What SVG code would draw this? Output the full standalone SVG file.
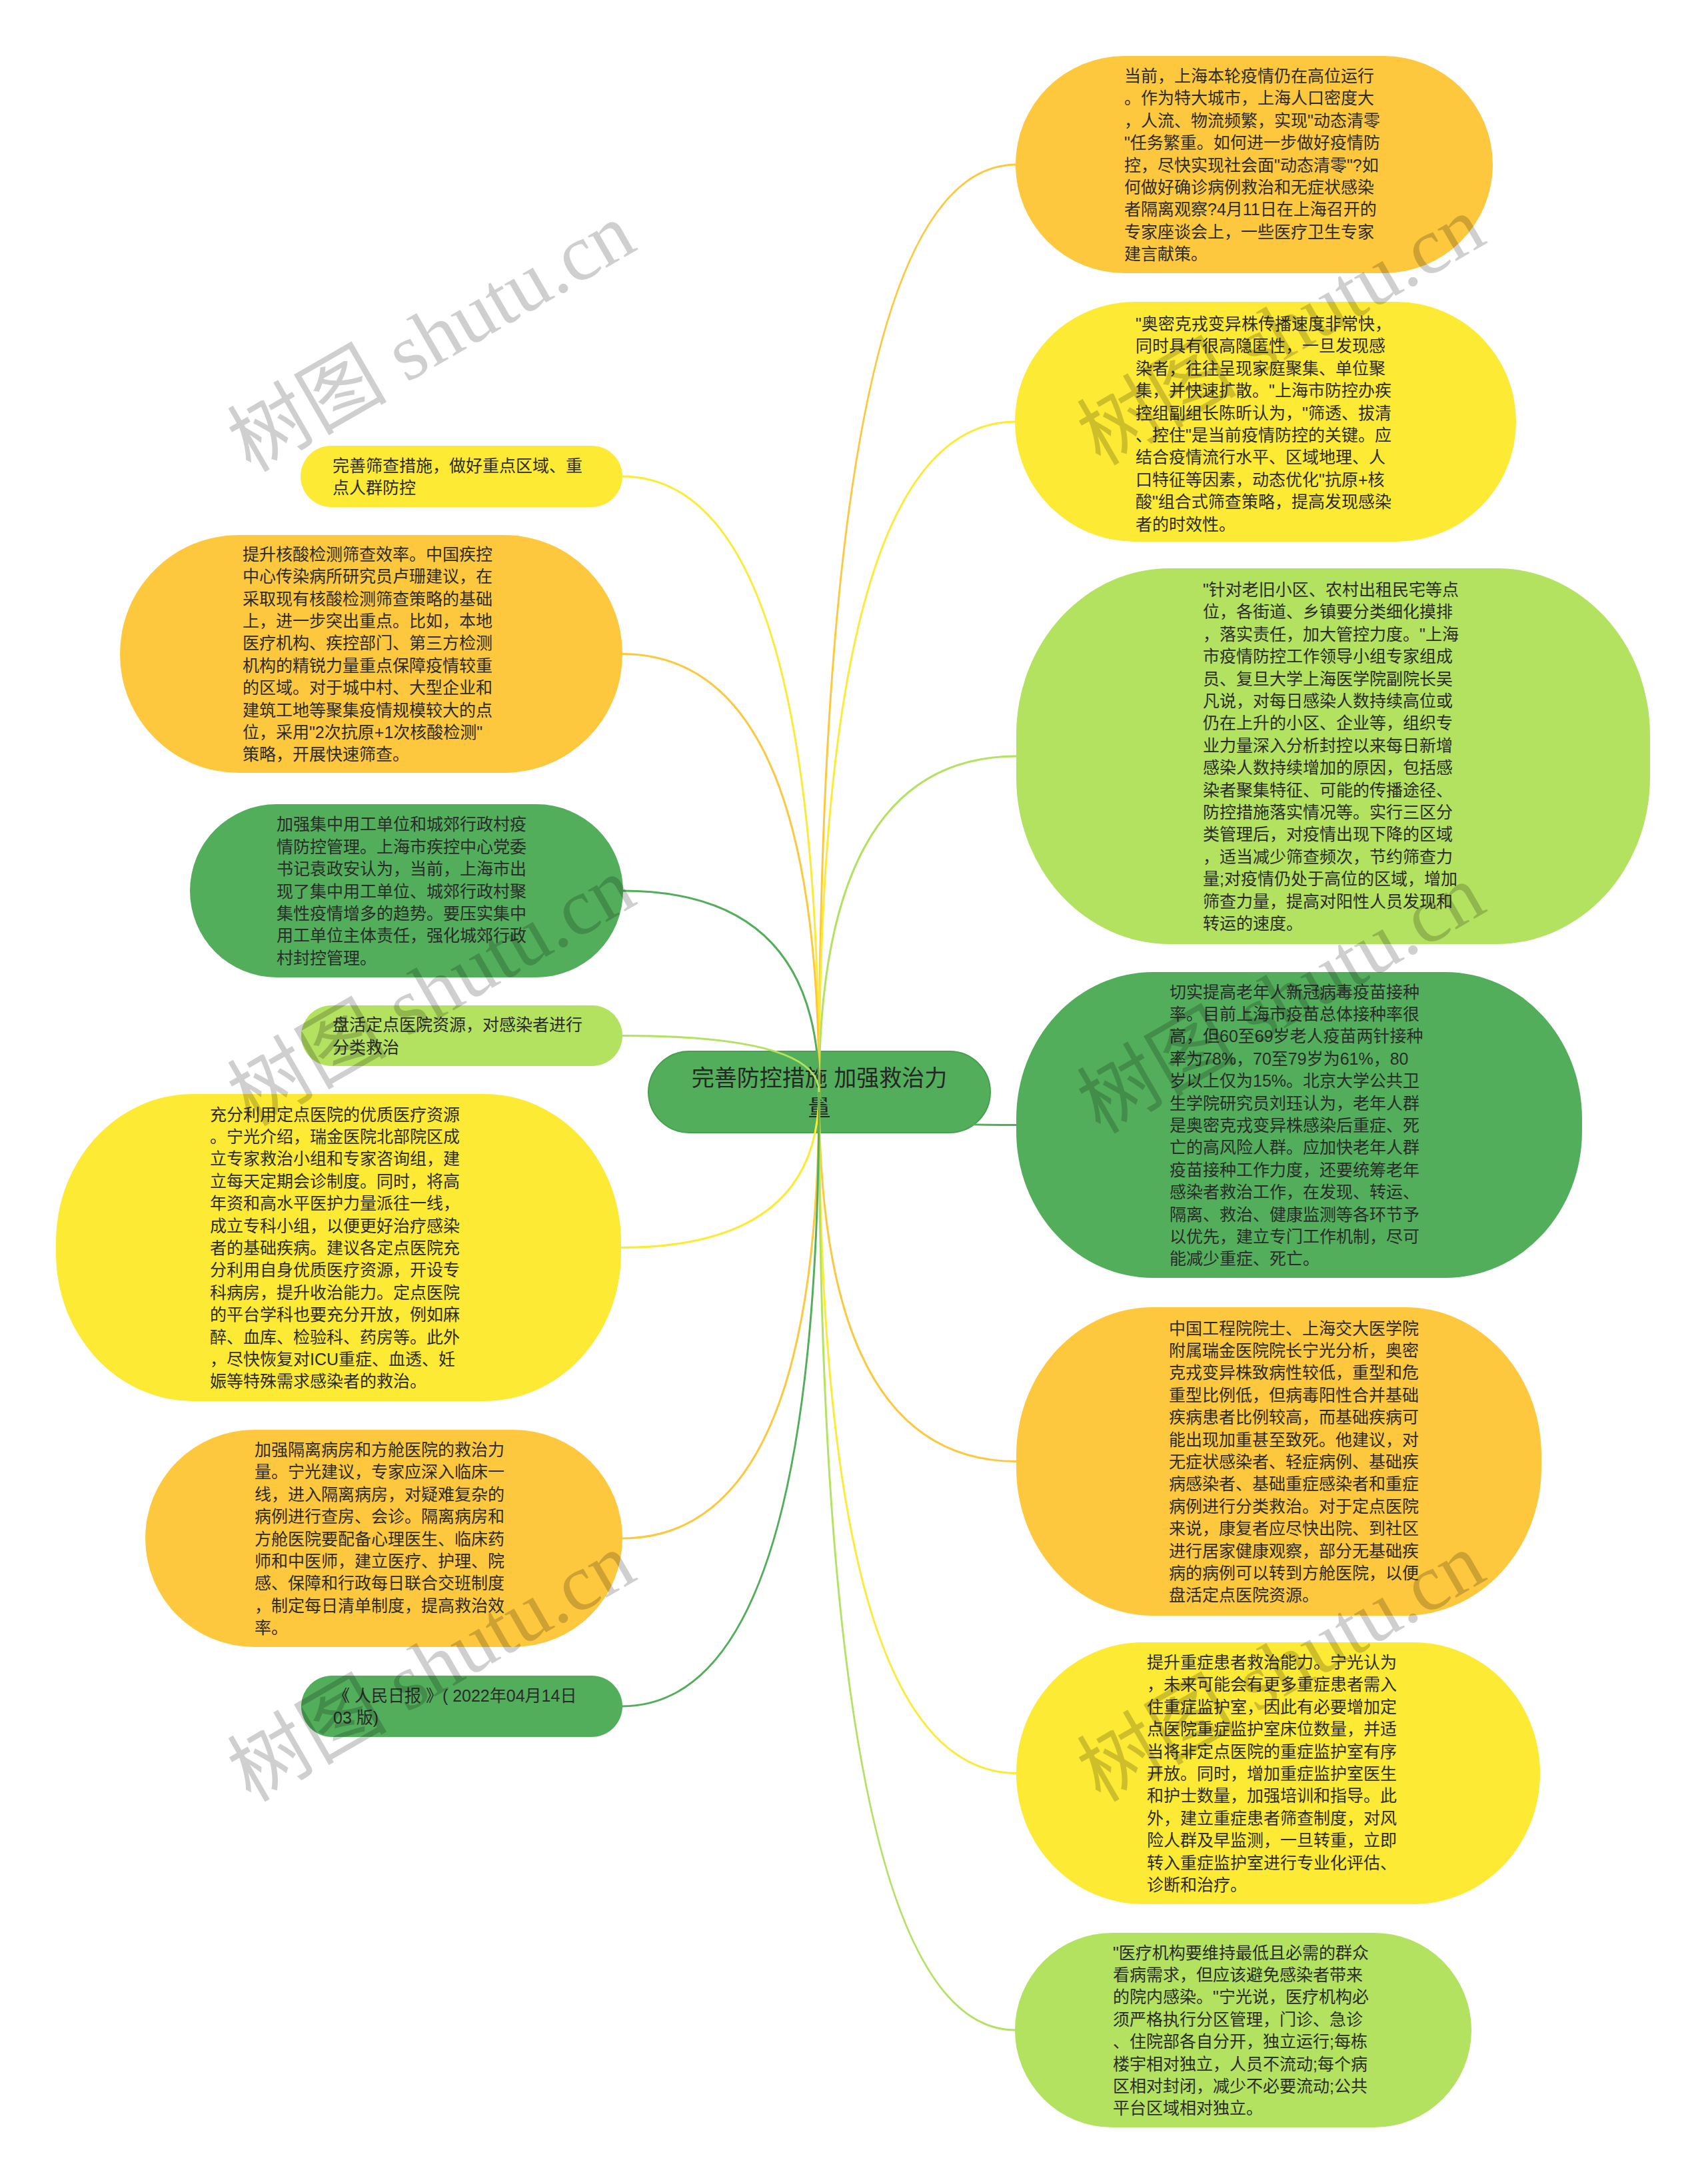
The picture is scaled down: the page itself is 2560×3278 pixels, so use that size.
<svg xmlns="http://www.w3.org/2000/svg" width="2560" height="3278" viewBox="0 0 2560 3278">
<style>
.or{fill:#FEC83E}.ye{fill:#FDEA34}.lg{fill:#B3E160}.dg{fill:#52AE5B}
.ctr{fill:#52AE5B;stroke:#46A04F;stroke-width:2}
.t{font-family:"Liberation Sans","Noto Sans CJK SC",sans-serif;font-size:25px;fill:#2b2b2b}
.tc{font-family:"Liberation Sans","Noto Sans CJK SC",sans-serif;font-size:34px;fill:#262626;text-anchor:middle}
.c{fill:none;stroke-width:3}
.cor{stroke:#FEC83E}.cye{stroke:#FDEA34}.clg{stroke:#B3E160}.cdg{stroke:#52AE5B}
.wm{font-family:"Liberation Serif","Noto Sans CJK SC",serif;font-size:120px;fill:#000;fill-opacity:0.19}
</style>
<rect width="2560" height="3278" fill="#ffffff"/>

<g id="center">
<rect class="ctr" x="973" y="1578" width="513" height="122" rx="61" ry="61"/>
<text class="tc" x="1229.5" y="1630">完善防控措施 加强救治力<tspan x="1229.5" y="1675">量</tspan></text>
</g>

<g id="r1">
<rect class="or" x="1524" y="84" width="716" height="326" rx="163" ry="163"/>
<text class="t" x="1687" y="123"><tspan x="1687">当前，上海本轮疫情仍在高位运行</tspan><tspan x="1687" dy="33.4">。作为特大城市，上海人口密度大</tspan><tspan x="1687" dy="33.4">，人流、物流频繁，实现"动态清零</tspan><tspan x="1687" dy="33.4">"任务繁重。如何进一步做好疫情防</tspan><tspan x="1687" dy="33.4">控，尽快实现社会面"动态清零"?如</tspan><tspan x="1687" dy="33.4">何做好确诊病例救治和无症状感染</tspan><tspan x="1687" dy="33.4">者隔离观察?4月11日在上海召开的</tspan><tspan x="1687" dy="33.4">专家座谈会上，一些医疗卫生专家</tspan><tspan x="1687" dy="33.4">建言献策。</tspan></text>
</g>

<g id="r2">
<rect class="ye" x="1523" y="453" width="752" height="360" rx="180" ry="180"/>
<text class="t" x="1704" y="495"><tspan x="1704">"奥密克戎变异株传播速度非常快，</tspan><tspan x="1704" dy="33.4">同时具有很高隐匿性，一旦发现感</tspan><tspan x="1704" dy="33.4">染者，往往呈现家庭聚集、单位聚</tspan><tspan x="1704" dy="33.4">集，并快速扩散。"上海市防控办疾</tspan><tspan x="1704" dy="33.4">控组副组长陈昕认为，"筛透、拔清</tspan><tspan x="1704" dy="33.4">、控住"是当前疫情防控的关键。应</tspan><tspan x="1704" dy="33.4">结合疫情流行水平、区域地理、人</tspan><tspan x="1704" dy="33.4">口特征等因素，动态优化"抗原+核</tspan><tspan x="1704" dy="33.4">酸"组合式筛查策略，提高发现感染</tspan><tspan x="1704" dy="33.4">者的时效性。</tspan></text>
</g>

<g id="r3">
<rect class="lg" x="1525" y="853" width="951" height="564" rx="230" ry="250"/>
<text class="t" x="1805" y="894"><tspan x="1805">"针对老旧小区、农村出租民宅等点</tspan><tspan x="1805" dy="33.4">位，各街道、乡镇要分类细化摸排</tspan><tspan x="1805" dy="33.4">，落实责任，加大管控力度。"上海</tspan><tspan x="1805" dy="33.4">市疫情防控工作领导小组专家组成</tspan><tspan x="1805" dy="33.4">员、复旦大学上海医学院副院长吴</tspan><tspan x="1805" dy="33.4">凡说，对每日感染人数持续高位或</tspan><tspan x="1805" dy="33.4">仍在上升的小区、企业等，组织专</tspan><tspan x="1805" dy="33.4">业力量深入分析封控以来每日新增</tspan><tspan x="1805" dy="33.4">感染人数持续增加的原因，包括感</tspan><tspan x="1805" dy="33.4">染者聚集特征、可能的传播途径、</tspan><tspan x="1805" dy="33.4">防控措施落实情况等。实行三区分</tspan><tspan x="1805" dy="33.4">类管理后，对疫情出现下降的区域</tspan><tspan x="1805" dy="33.4">，适当减少筛查频次，节约筛查力</tspan><tspan x="1805" dy="33.4">量;对疫情仍处于高位的区域，增加</tspan><tspan x="1805" dy="33.4">筛查力量，提高对阳性人员发现和</tspan><tspan x="1805" dy="33.4">转运的速度。</tspan></text>
</g>

<g id="r4">
<rect class="dg" x="1525" y="1459" width="849" height="459" rx="205" ry="220"/>
<text class="t" x="1755" y="1497.6"><tspan x="1755">切实提高老年人新冠病毒疫苗接种</tspan><tspan x="1755" dy="33.4">率。目前上海市疫苗总体接种率很</tspan><tspan x="1755" dy="33.4">高，但60至69岁老人疫苗两针接种</tspan><tspan x="1755" dy="33.4">率为78%，70至79岁为61%，80</tspan><tspan x="1755" dy="33.4">岁以上仅为15%。北京大学公共卫</tspan><tspan x="1755" dy="33.4">生学院研究员刘珏认为，老年人群</tspan><tspan x="1755" dy="33.4">是奥密克戎变异株感染后重症、死</tspan><tspan x="1755" dy="33.4">亡的高风险人群。应加快老年人群</tspan><tspan x="1755" dy="33.4">疫苗接种工作力度，还要统筹老年</tspan><tspan x="1755" dy="33.4">感染者救治工作，在发现、转运、</tspan><tspan x="1755" dy="33.4">隔离、救治、健康监测等各环节予</tspan><tspan x="1755" dy="33.4">以优先，建立专门工作机制，尽可</tspan><tspan x="1755" dy="33.4">能减少重症、死亡。</tspan></text>
</g>

<g id="r5">
<rect class="or" x="1525" y="1962" width="788" height="463" rx="205" ry="222"/>
<text class="t" x="1754" y="2002.6"><tspan x="1754">中国工程院院士、上海交大医学院</tspan><tspan x="1754" dy="33.4">附属瑞金医院院长宁光分析，奥密</tspan><tspan x="1754" dy="33.4">克戎变异株致病性较低，重型和危</tspan><tspan x="1754" dy="33.4">重型比例低，但病毒阳性合并基础</tspan><tspan x="1754" dy="33.4">疾病患者比例较高，而基础疾病可</tspan><tspan x="1754" dy="33.4">能出现加重甚至致死。他建议，对</tspan><tspan x="1754" dy="33.4">无症状感染者、轻症病例、基础疾</tspan><tspan x="1754" dy="33.4">病感染者、基础重症感染者和重症</tspan><tspan x="1754" dy="33.4">病例进行分类救治。对于定点医院</tspan><tspan x="1754" dy="33.4">来说，康复者应尽快出院、到社区</tspan><tspan x="1754" dy="33.4">进行居家健康观察，部分无基础疾</tspan><tspan x="1754" dy="33.4">病的病例可以转到方舱医院，以便</tspan><tspan x="1754" dy="33.4">盘活定点医院资源。</tspan></text>
</g>

<g id="r6">
<rect class="ye" x="1525" y="2465" width="786" height="393" rx="190" ry="196"/>
<text class="t" x="1721" y="2504"><tspan x="1721">提升重症患者救治能力。宁光认为</tspan><tspan x="1721" dy="33.4">，未来可能会有更多重症患者需入</tspan><tspan x="1721" dy="33.4">住重症监护室，因此有必要增加定</tspan><tspan x="1721" dy="33.4">点医院重症监护室床位数量，并适</tspan><tspan x="1721" dy="33.4">当将非定点医院的重症监护室有序</tspan><tspan x="1721" dy="33.4">开放。同时，增加重症监护室医生</tspan><tspan x="1721" dy="33.4">和护士数量，加强培训和指导。此</tspan><tspan x="1721" dy="33.4">外，建立重症患者筛查制度，对风</tspan><tspan x="1721" dy="33.4">险人群及早监测，一旦转重，立即</tspan><tspan x="1721" dy="33.4">转入重症监护室进行专业化评估、</tspan><tspan x="1721" dy="33.4">诊断和治疗。</tspan></text>
</g>

<g id="r7">
<rect class="lg" x="1523" y="2901" width="685" height="292" rx="146" ry="146"/>
<text class="t" x="1670" y="2939.6"><tspan x="1670">"医疗机构要维持最低且必需的群众</tspan><tspan x="1670" dy="33.4">看病需求，但应该避免感染者带来</tspan><tspan x="1670" dy="33.4">的院内感染。"宁光说，医疗机构必</tspan><tspan x="1670" dy="33.4">须严格执行分区管理，门诊、急诊</tspan><tspan x="1670" dy="33.4">、住院部各自分开，独立运行;每栋</tspan><tspan x="1670" dy="33.4">楼宇相对独立，人员不流动;每个病</tspan><tspan x="1670" dy="33.4">区相对封闭，减少不必要流动;公共</tspan><tspan x="1670" dy="33.4">平台区域相对独立。</tspan></text>
</g>

<g id="l1">
<rect class="ye" x="451" y="669" width="483" height="92" rx="46" ry="46"/>
<text class="t" x="499" y="707.8"><tspan x="499">完善筛查措施，做好重点区域、重</tspan><tspan x="499" dy="33.4">点人群防控</tspan></text>
</g>

<g id="l2">
<rect class="or" x="180" y="803" width="754" height="357" rx="178" ry="178"/>
<text class="t" x="364" y="840.7"><tspan x="364">提升核酸检测筛查效率。中国疾控</tspan><tspan x="364" dy="33.4">中心传染病所研究员卢珊建议，在</tspan><tspan x="364" dy="33.4">采取现有核酸检测筛查策略的基础</tspan><tspan x="364" dy="33.4">上，进一步突出重点。比如，本地</tspan><tspan x="364" dy="33.4">医疗机构、疾控部门、第三方检测</tspan><tspan x="364" dy="33.4">机构的精锐力量重点保障疫情较重</tspan><tspan x="364" dy="33.4">的区域。对于城中村、大型企业和</tspan><tspan x="364" dy="33.4">建筑工地等聚集疫情规模较大的点</tspan><tspan x="364" dy="33.4">位，采用"2次抗原+1次核酸检测"</tspan><tspan x="364" dy="33.4">策略，开展快速筛查。</tspan></text>
</g>

<g id="l3">
<rect class="dg" x="285" y="1207" width="650" height="260" rx="130" ry="130"/>
<text class="t" x="415" y="1246.3"><tspan x="415">加强集中用工单位和城郊行政村疫</tspan><tspan x="415" dy="33.4">情防控管理。上海市疾控中心党委</tspan><tspan x="415" dy="33.4">书记袁政安认为，当前，上海市出</tspan><tspan x="415" dy="33.4">现了集中用工单位、城郊行政村聚</tspan><tspan x="415" dy="33.4">集性疫情增多的趋势。要压实集中</tspan><tspan x="415" dy="33.4">用工单位主体责任，强化城郊行政</tspan><tspan x="415" dy="33.4">村封控管理。</tspan></text>
</g>

<g id="l4">
<rect class="lg" x="452" y="1509" width="482" height="91" rx="45.5" ry="45.5"/>
<text class="t" x="499" y="1547.3"><tspan x="499">盘活定点医院资源，对感染者进行</tspan><tspan x="499" dy="33.4">分类救治</tspan></text>
</g>

<g id="l5">
<rect class="ye" x="84" y="1642" width="848" height="461" rx="205" ry="222"/>
<text class="t" x="315" y="1681.6"><tspan x="315">充分利用定点医院的优质医疗资源</tspan><tspan x="315" dy="33.4">。宁光介绍，瑞金医院北部院区成</tspan><tspan x="315" dy="33.4">立专家救治小组和专家咨询组，建</tspan><tspan x="315" dy="33.4">立每天定期会诊制度。同时，将高</tspan><tspan x="315" dy="33.4">年资和高水平医护力量派往一线，</tspan><tspan x="315" dy="33.4">成立专科小组，以便更好治疗感染</tspan><tspan x="315" dy="33.4">者的基础疾病。建议各定点医院充</tspan><tspan x="315" dy="33.4">分利用自身优质医疗资源，开设专</tspan><tspan x="315" dy="33.4">科病房，提升收治能力。定点医院</tspan><tspan x="315" dy="33.4">的平台学科也要充分开放，例如麻</tspan><tspan x="315" dy="33.4">醉、血库、检验科、药房等。此外</tspan><tspan x="315" dy="33.4">，尽快恢复对ICU重症、血透、妊</tspan><tspan x="315" dy="33.4">娠等特殊需求感染者的救治。</tspan></text>
</g>

<g id="l6">
<rect class="or" x="218" y="2146" width="716" height="326" rx="163" ry="163"/>
<text class="t" x="382" y="2184.9"><tspan x="382">加强隔离病房和方舱医院的救治力</tspan><tspan x="382" dy="33.4">量。宁光建议，专家应深入临床一</tspan><tspan x="382" dy="33.4">线，进入隔离病房，对疑难复杂的</tspan><tspan x="382" dy="33.4">病例进行查房、会诊。隔离病房和</tspan><tspan x="382" dy="33.4">方舱医院要配备心理医生、临床药</tspan><tspan x="382" dy="33.4">师和中医师，建立医疗、护理、院</tspan><tspan x="382" dy="33.4">感、保障和行政每日联合交班制度</tspan><tspan x="382" dy="33.4">，制定每日清单制度，提高救治效</tspan><tspan x="382" dy="33.4">率。</tspan></text>
</g>

<g id="l7">
<rect class="dg" x="452" y="2515" width="482" height="92" rx="46" ry="46"/>
<text class="t" x="500" y="2553.8"><tspan x="500">《 人民日报 》( 2022年04月14日</tspan><tspan x="500" dy="33.4">03 版)</tspan></text>
</g>

<g id="connectors">
<path class="c cor" d="M1229 1639 Q1229 247 1525 247"/>
<path class="c cye" d="M1229 1639 Q1229 633 1524 633"/>
<path class="c clg" d="M1229 1639 Q1229 1135 1526 1135"/>
<path class="c cdg" d="M1229 1639 Q1229 1688.5 1526 1688.5"/>
<path class="c cor" d="M1229 1639 Q1229 2193.5 1526 2193.5"/>
<path class="c cye" d="M1229 1639 Q1229 2661.5 1526 2661.5"/>
<path class="c clg" d="M1229 1639 Q1229 3047 1524 3047"/>
<path class="c cye" d="M1229 1639 Q1229 715 933 715"/>
<path class="c cor" d="M1229 1639 Q1229 981.5 933 981.5"/>
<path class="c cdg" d="M1229 1639 Q1229 1337 934 1337"/>
<path class="c clg" d="M1229 1639 Q1229 1554.5 933 1554.5"/>
<path class="c cye" d="M1229 1639 Q1229 1872.5 931 1872.5"/>
<path class="c cor" d="M1229 1639 Q1229 2309 933 2309"/>
<path class="c cdg" d="M1229 1639 Q1229 2561 933 2561"/>
</g>

<g id="watermarks">
<text class="wm" x="376" y="710" transform="rotate(-30 376 710)">树图 shutu.cn</text>
<text class="wm" x="1651" y="700" transform="rotate(-30 1651 700)">树图 shutu.cn</text>
<text class="wm" x="376" y="1692" transform="rotate(-30 376 1692)">树图 shutu.cn</text>
<text class="wm" x="1651" y="1703" transform="rotate(-30 1651 1703)">树图 shutu.cn</text>
<text class="wm" x="376" y="2706" transform="rotate(-30 376 2706)">树图 shutu.cn</text>
<text class="wm" x="1651" y="2706" transform="rotate(-30 1651 2706)">树图 shutu.cn</text>
</g>
</svg>
